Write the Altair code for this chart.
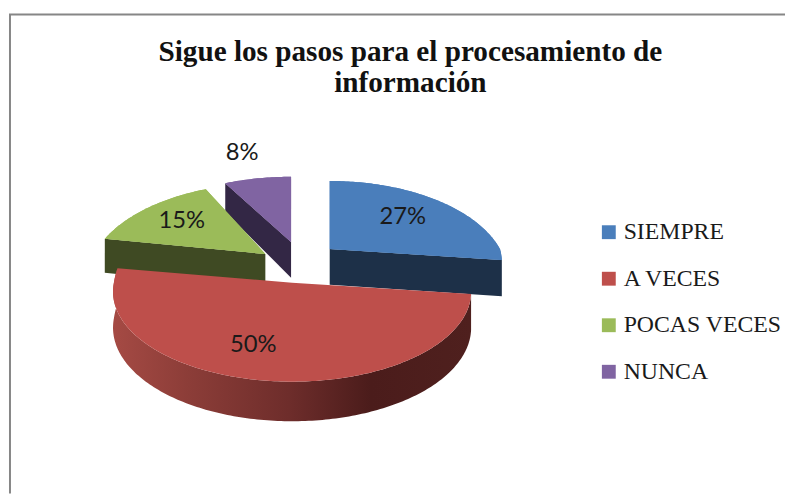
import math
import altair as alt

# ---- chart values ----
categories = ["SIEMPRE", "A VECES", "POCAS VECES", "NUNCA"]
percent = [27, 50, 15, 8]
title_lines = ["Sigue los pasos para el procesamiento de", "información"]

# ---- styles ----
top_colors = ["#4a7ebb", "#be4f4b", "#9bbb59", "#8064a2"]
wall_colors = ["#1d3048", None, "#3f4a23", "#332745"]

# ---- exploded 3D pie geometry: page pixels, perspective of each slice ----
geometry = {
    "SIEMPRE": dict(cx=330, cy=248, a=172, b=87, bb=88, kb=0.28, kf=0.15, rot=0, label=0.66, ldx=-2, ldy=2),
    "A VECES": dict(cx=292, cy=282, a=180, b=90, bb=118, kb=0.10, kf=0.10, rot=0, label=0.63, ldx=-24, ldy=3),
    "POCAS VECES": dict(cx=265, cy=253, a=173, b=91, bb=91, kb=0.28, kf=0.15, rot=3, label=0.72, ldx=4, ldy=2),
    "NUNCA": dict(cx=291, cy=241, a=172, b=84.5, bb=84.5, kb=0.28, kf=0.15, rot=0, label=1.40, ldx=-6, ldy=-7),
}
DEPTH = 36


def project(g, deg, r=1.0, down=False):
    t = math.radians(deg + g["rot"])
    X, Y = math.sin(t), math.cos(t)
    w = 1 + (g["kb"] if Y > 0 else g["kf"]) * Y * r
    px = g["cx"] + g["a"] * X * r / w
    py = g["cy"] - (g["bb"] if Y > 0 else g["b"]) * Y * r / w
    if down:
        py += DEPTH / w
    return [px, py]


def feature(rings, **props):
    return {"type": "Feature", "properties": props,
            "geometry": {"type": "Polygon", "coordinates": [rings]}}


def arc(g, a0, a1, down=False):
    n = max(8, int(abs(a1 - a0)))
    return [project(g, a0 + (a1 - a0) * i / n, down=down) for i in range(n + 1)]


spans = {}
start = 0.0
for name, p in zip(categories, percent):
    spans[name] = (start, start + p * 3.6)
    start += p * 3.6

tops, walls, red_side, labels = [], [], [], []
for name, p, wall in zip(categories, percent, wall_colors):
    g = geometry[name]
    a0, a1 = spans[name]
    apex = [g["cx"], g["cy"]]
    tops.append(feature([apex] + arc(g, a0, a1) + [apex], serie=name))
    if name == "A VECES":
        up = arc(g, a0, a1)
        low = arc(g, a0, a1, down=True)
        red_side.append(feature(up + low[::-1] + [up[0]], serie=name))
    else:
        angle = a1 if name == "SIEMPRE" else a0
        e0 = project(g, angle)
        e1 = project(g, angle, down=True)
        walls.append(feature([apex, e0, e1, [apex[0], apex[1] + DEPTH], apex], fill=wall))
    lx, ly = project(g, (a0 + a1) / 2, r=g["label"])
    labels.append({"lon": lx + g["ldx"], "lat": ly + g["ldy"], "text": f"{p}%"})

frame = [{"type": "Feature", "properties": {},
          "geometry": {"type": "LineString",
                       "coordinates": [[7, 495], [7, 11], [800, 11]]}}]

proj = alt.Projection(type="identity", scale=1, translate=[-5, -77])


def data_of(features):
    return alt.Data(values=features)


frame_layer = alt.Chart(data_of(frame)).mark_geoshape(
    filled=False, stroke="#868686", strokeWidth=2, clip=False
).properties(projection=proj)

wall_layer = alt.Chart(data_of(walls)).mark_geoshape(strokeWidth=0, clip=False).encode(
    color=alt.Color("properties.fill:N", scale=None)
).properties(projection=proj)

side_layer = alt.Chart(data_of(red_side)).mark_geoshape(
    strokeWidth=0,
    fill=alt.Gradient(
        gradient="linear", x1=0, x2=1, y1=0, y2=0,
        stops=[
            alt.GradientStop(offset=0, color="#a54a44"),
            alt.GradientStop(offset=0.21, color="#8c3d38"),
            alt.GradientStop(offset=0.49, color="#6e2d2b"),
            alt.GradientStop(offset=0.72, color="#4b1c1b"),
            alt.GradientStop(offset=1, color="#4f201e"),
        ],
    ),
).properties(projection=proj)

top_layer = alt.Chart(data_of(tops)).mark_geoshape(strokeWidth=0).encode(
    color=alt.Color(
        "properties.serie:N",
        scale=alt.Scale(domain=categories, range=top_colors),
        sort=categories,
        legend=alt.Legend(
            title=None, orient="none", legendX=595, legendY=142,
            symbolType="square", symbolSize=196, symbolStrokeWidth=0,
            symbolOpacity=1, labelFont="Liberation Serif", labelFontSize=24,
            labelColor="#1a1a1a", labelOffset=3, rowPadding=23, padding=0,
            labelLimit=300,
        ),
    )
).properties(projection=proj)

# upper slices first, the red slice lies over the walls of the others
upper = alt.Chart(data_of(tops[2:] + tops[:1])).mark_geoshape(strokeWidth=0).encode(
    color=alt.Color("properties.serie:N",
                    scale=alt.Scale(domain=categories, range=top_colors),
                    legend=None)
).properties(projection=proj)

text_layer = alt.Chart(alt.Data(values=labels)).mark_text(
    font="Lato", fontSize=24, color="#1a1a1a", baseline="middle", align="center"
).encode(
    longitude="lon:Q", latitude="lat:Q", text="text:N"
).properties(projection=proj)

chart = (
    alt.layer(frame_layer, wall_layer, upper, side_layer, top_layer, text_layer)
    .resolve_scale(color="independent")
    .properties(
        width=785,
        height=417,
        padding={"left": 0, "top": 70, "right": 0, "bottom": 0},
        autosize=alt.AutoSizeParams(type="none"),
        title=alt.TitleParams(
            text=title_lines, font="Liberation Serif", fontSize=29.5, fontWeight="bold",
            color="#111111", anchor="middle", dx=14, offset=-89, lineHeight=31,
        ),
    )
    .configure_view(stroke=None)
)

chart.save("out.html", embed_options={"renderer": "svg", "actions": False})
